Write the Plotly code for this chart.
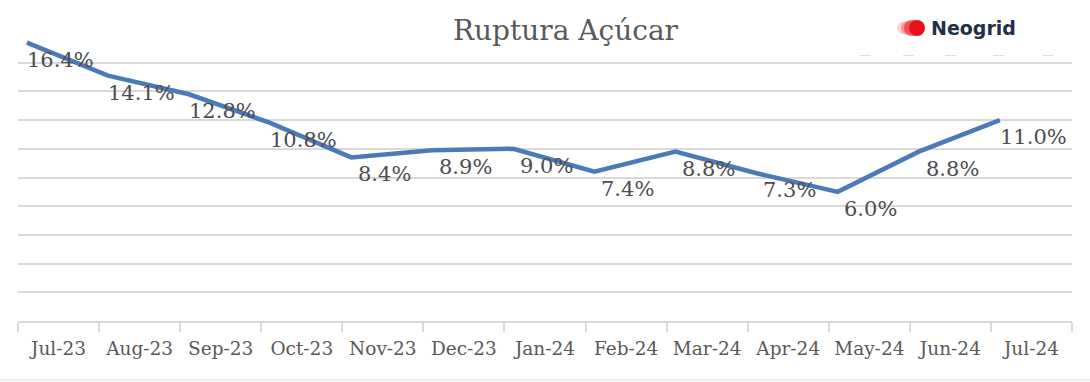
import plotly.graph_objects as go

# ---- data ----
months = ["Jul-23", "Aug-23", "Sep-23", "Oct-23", "Nov-23", "Dec-23", "Jan-24",
          "Feb-24", "Mar-24", "Apr-24", "May-24", "Jun-24", "Jul-24"]
ruptura = [16.4, 14.1, 12.8, 10.8, 8.4, 8.9, 9.0, 7.4, 8.8, 7.3, 6.0, 8.8, 11.0]
labels = [f"{v:.1f}%" for v in ruptura]
grid_vals = [-1, 1, 3, 5, 7, 9, 11, 13, 15]

# ---- style / layout constants ----
W, H = 1090, 382
L, R, T, B = 18, 18, 30, 61
POINT_SHIFT = -0.39          # line vertices sit left of the category centre
LINE_COLOR = "#4a7ab9"
GRID = "#d9d9d9"
TXT = "#595959"
SERIF = "DejaVu Serif"

idx = list(range(len(months)))
fig = go.Figure()
fig.add_trace(go.Scatter(
    x=[i + POINT_SHIFT for i in idx], y=ruptura, mode="lines",
    line=dict(color=LINE_COLOR, width=4.5), hoverinfo="skip", showlegend=False))

# data labels
for i, v, t in zip(idx, ruptura, labels):
    fig.add_annotation(x=i + 0.02, y=v, text=t, showarrow=False,
                       xanchor="center", yanchor="middle", yshift=-17,
                       font=dict(family=SERIF, size=21, color="#4d4d4d"))

plot_w = W - L - R
plot_h = H - T - B
def px_x(p):
    return (p - L) / plot_w
def px_y(p):
    return (H - B - p) / plot_h

# title
fig.add_annotation(xref="paper", yref="paper", x=px_x(566), y=px_y(30),
                   text="Ruptura Açúcar", showarrow=False, xanchor="center",
                   yanchor="middle", font=dict(family=SERIF, size=28, color=TXT))

# logo
for cx, col, r in [(903, "rgba(240,120,120,0.35)", 6), (908, "rgba(240,90,90,0.5)", 7),
                   (912, "rgba(235,50,50,0.7)", 8), (917, "#e8101a", 8)]:
    fig.add_shape(type="circle", xref="paper", yref="paper",
                  xsizemode="pixel", ysizemode="pixel",
                  xanchor=px_x(cx), yanchor=px_y(28),
                  x0=-r, x1=r, y0=-r, y1=r, line=dict(width=0), fillcolor=col)
fig.add_annotation(xref="paper", yref="paper", x=px_x(929), y=px_y(28),
                   text="<b>Neogrid</b>", showarrow=False, xanchor="left",
                   yanchor="middle", font=dict(family="DejaVu Sans", size=19, color="#1f3048"))
for cx in [865, 908, 950, 998, 1047]:
    fig.add_annotation(xref="paper", yref="paper", x=px_x(cx), y=px_y(54),
                       text="-----", showarrow=False, xanchor="center", yanchor="middle",
                       font=dict(family="DejaVu Sans", size=6, color="#a8a8a8"))

# faint bottom border
fig.add_shape(type="line", xref="paper", yref="paper",
              x0=px_x(0), x1=px_x(W), y0=px_y(380), y1=px_y(380),
              line=dict(color="#e8e8e8", width=1.5))

fig.update_layout(
    width=W, height=H, margin=dict(l=L, r=R, t=T, b=B),
    paper_bgcolor="white", plot_bgcolor="white", showlegend=False,
    xaxis=dict(range=[-0.5, len(months) - 0.5], tickmode="array", tickvals=idx,
               ticktext=months, ticks="", showgrid=False, zeroline=False,
               showline=True, linecolor=GRID, linewidth=1.5,
               tickfont=dict(family=SERIF, size=18.5, color=TXT),
               ticklabelstandoff=10,
               minor=dict(tickmode="array", tickvals=[i - 0.5 for i in range(len(months) + 1)],
                          ticks="outside", ticklen=9, tickcolor=GRID, tickwidth=1.5,
                          showgrid=False)),
    yaxis=dict(range=[-3, -3 + plot_h / 14.35], tickmode="array", tickvals=grid_vals,
               showticklabels=False, ticks="", showgrid=True, gridcolor=GRID,
               gridwidth=1.5, zeroline=False, showline=False),
)

fig.write_html("out.html")
